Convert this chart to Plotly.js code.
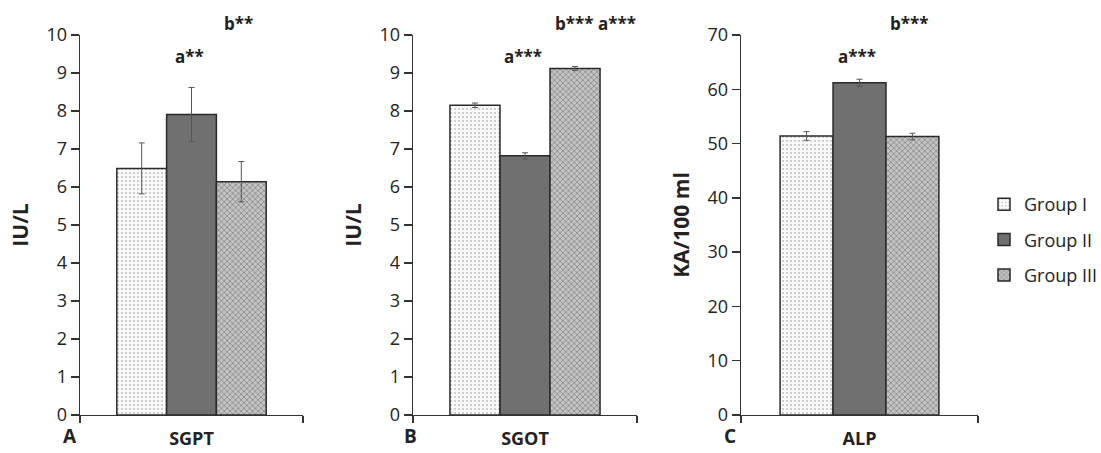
<!DOCTYPE html>
<html><head><meta charset="utf-8">
<script src="https://cdn.plot.ly/plotly-3.0.1.min.js"></script>
<style>html,body{margin:0;padding:0;background:#fff}#chart{width:1101px;height:453px}</style>
</head><body><div id="chart"></div>
<script>
// ---- data ----
const panels = ['SGPT', 'SGOT', 'ALP'];
const groupNames = ['Group I', 'Group II', 'Group III'];
const groupI = [6.49, 8.15, 51.4];
const groupII = [7.91, 6.82, 61.2];
const groupIII = [6.14, 9.12, 51.3];
const errI = [0.67, 0.06, 0.8];
const errII = [0.71, 0.08, 0.65];
const errIII = [0.53, 0.05, 0.6];
const yTitles = ['IU/L', 'IU/L', 'KA/100 ml'];
const yMax = [10, 10, 70];
const yStep = [1, 1, 10];
const panelLetters = ['A', 'B', 'C'];
const sigII = ['a**', 'a***', 'a***'];
const sigIII = ['b**', 'b*** a***', 'b***'];

// ---- styles ----
const FONT = '"Open Sans", "DejaVu Sans", sans-serif';
const W = 1101, H = 453;
const plotTop = 35, plotBottom = 415;
const xDomPx = [[80, 303], [413, 637], [741, 978]];
const letterX = [70, 410, 730];
const styles = [
  {color: '#f8f8f8', pattern: {shape: '.', size: 4, solidity: 0.22, fgcolor: '#c4c4c4', bgcolor: '#fafafa'}},
  {color: '#707070'},
  {color: '#b8b8b8', pattern: {shape: 'x', size: 4, solidity: 0.35, fgcolor: '#858585', bgcolor: '#c4c4c4'}}
];
const values = [groupI, groupII, groupIII];
const errs = [errI, errII, errIII];
const BARGAP = 0.33;
const barW = (1 - BARGAP) / 3;

const traces = [];
for (let p = 0; p < 3; p++) {
  for (let g = 0; g < 3; g++) {
    const st = styles[g];
    const marker = {color: st.color, line: {color: '#2a2a2a', width: 1.5}};
    if (st.pattern) marker.pattern = st.pattern;
    traces.push({
      type: 'bar',
      x: [panels[p]],
      y: [values[g][p]],
      name: groupNames[g],
      legendgroup: groupNames[g],
      showlegend: p === 0,
      marker: marker,
      error_y: {type: 'data', array: [errs[g][p]], visible: true, color: '#555', thickness: 1, width: 3},
      xaxis: p === 0 ? 'x' : 'x' + (p + 1),
      yaxis: p === 0 ? 'y' : 'y' + (p + 1),
      hoverinfo: 'x+y+name'
    });
  }
}

const layout = {
  width: W, height: H,
  margin: {l: 0, r: 0, t: 0, b: 0, autoexpand: false},
  paper_bgcolor: '#fff', plot_bgcolor: '#fff',
  font: {family: FONT, color: '#222'},
  barmode: 'group',
  bargap: BARGAP,
  bargroupgap: 0,
  showlegend: true,
  legend: {
    x: 984 / W, xanchor: 'left', y: (H - 240) / H, yanchor: 'middle',
    font: {family: FONT, size: 18, color: '#222'},
    tracegroupgap: 9, itemwidth: 30,
    bgcolor: 'rgba(0,0,0,0)'
  },
  annotations: []
};

for (let p = 0; p < 3; p++) {
  const sx = p === 0 ? '' : String(p + 1);
  const dom = [xDomPx[p][0] / W, xDomPx[p][1] / W];
  layout['xaxis' + sx] = {
    domain: dom,
    anchor: 'y' + sx,
    type: 'category',
    range: [-0.5, 0.5],
    fixedrange: true,
    showline: true, linecolor: '#333', linewidth: 1.3,
    ticks: 'outside', tickson: 'boundaries', ticklen: 7, tickcolor: '#333', tickwidth: 1.3,
    tickfont: {family: FONT, size: 18, color: '#222', weight: 'bold'},
    ticklabelstandoff: 7,
    showgrid: false, zeroline: false
  };
  layout['yaxis' + sx] = {
    domain: [(H - plotBottom) / H, (H - plotTop) / H],
    anchor: 'x' + sx,
    range: [0, yMax[p]],
    dtick: yStep[p], tick0: 0,
    fixedrange: true,
    showline: true, linecolor: '#333', linewidth: 1.3,
    ticks: 'outside', ticklen: 8, tickcolor: '#333', tickwidth: 1.3,
    tickfont: {family: FONT, size: 18, color: '#222'},
    showgrid: false, zeroline: false,
    title: {text: yTitles[p], font: {family: FONT, size: 21, color: '#222', weight: 'bold'}, standoff: 12}
  };
  // panel letter
  layout.annotations.push({
    text: '<b>' + panelLetters[p] + '</b>', xref: 'paper', yref: 'paper',
    x: letterX[p] / W, y: (H - 436) / H, xanchor: 'center', yanchor: 'middle',
    showarrow: false, font: {family: FONT, size: 19, color: '#222'}
  });
  // significance marks
  layout.annotations.push({
    text: '<b>' + sigII[p] + '</b>', xref: 'x' + sx, yref: 'paper',
    x: -0.05 * barW, y: (H - 57) / H, xanchor: 'center', yanchor: 'middle',
    showarrow: false, font: {family: FONT, size: 17, color: '#222'}
  });
  layout.annotations.push({
    text: '<b>' + sigIII[p] + '</b>', xref: 'x' + sx, yref: 'paper',
    x: p === 1 ? barW * 1.4 : barW * 0.95, y: (H - 23) / H, xanchor: 'center', yanchor: 'middle',
    showarrow: false, font: {family: FONT, size: 17, color: '#222'}
  });
}

Plotly.newPlot('chart', traces, layout, {displayModeBar: false, staticPlot: true});
</script>
</body></html>
